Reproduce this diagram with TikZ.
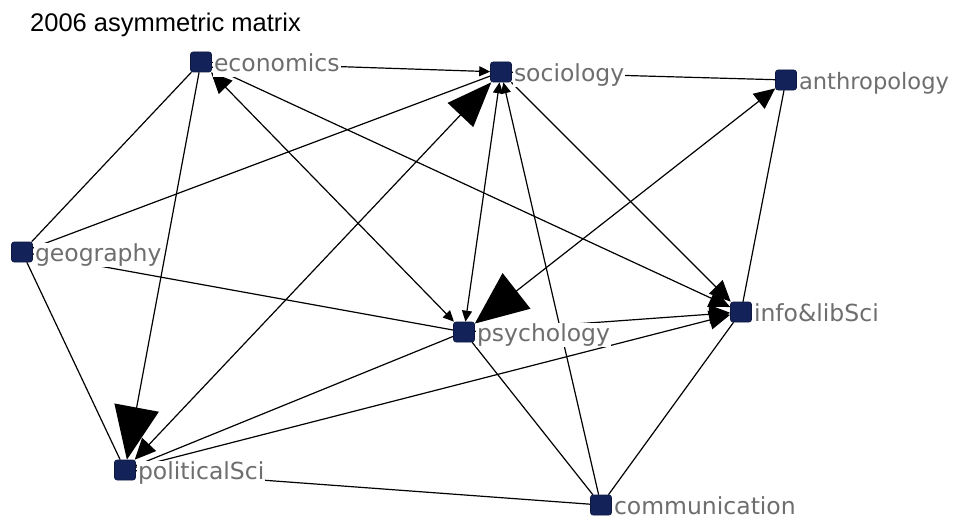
\documentclass[tikz,border=0pt]{standalone}
\usepackage{fontspec}
\newfontfamily\labelfont{DejaVu Sans}
\newfontfamily\titlefont{Liberation Sans}
\usetikzlibrary{arrows.meta}
\pgfdeclarelayer{canvas}
\pgfdeclarelayer{edges}
\pgfsetlayers{canvas,edges,main}
\definecolor{nodeblue}{HTML}{14225A}
\definecolor{labelgray}{HTML}{6E6E6E}
\tikzset{
  actor/.style={fill=nodeblue, draw=nodeblue!70!black, line width=0.6pt,
    rounded corners=2.5pt, minimum width=21pt, minimum height=20pt, inner sep=0pt},
  actorlabel/.style={anchor=west, fill=white, inner sep=1pt, xshift=1pt, yshift=-3pt,
    text=labelgray, font=\labelfont\fontsize{23.5}{28}\selectfont,
    text height=17pt, text depth=4.5pt},
  tie/.style={draw=black, line width=1.2pt},
  hS/.tip={Triangle[length=11pt,width=10pt]},
  hM/.tip={Triangle[length=21pt,width=19pt]},
  hL/.tip={Triangle[length=45pt,width=35pt]},
  hX/.tip={Triangle[length=53pt,width=45pt]}
}
\begin{document}
\begin{tikzpicture}[x=1pt,y=-1pt]
\useasboundingbox (0,0) rectangle (953,519);
\begin{pgfonlayer}{canvas}
\fill[white] (0,0) rectangle (953,519);
\end{pgfonlayer}

% title
\node[anchor=base west, inner sep=0pt, font=\titlefont\fontsize{25.5}{30}\selectfont]
  (title) at (30,31.5) {2006 asymmetric matrix};

% actors
\node[actor] (eco) at (201,62) {};
\node[actor] (soc) at (501,72) {};
\node[actor] (ant) at (786,80) {};
\node[actor] (geo) at (22,252) {};
\node[actor] (psy) at (464,332) {};
\node[actor] (inf) at (741,312) {};
\node[actor] (pol) at (125,470) {};
\node[actor] (com) at (601,505) {};

% labels (white boxes hide the ties running underneath)
\node[actorlabel] (ecoL) at (eco.east) {economics};
\node[actorlabel] (socL) at (soc.east) {sociology};
\node[actorlabel, xshift=0pt, font=\labelfont\fontsize{22.6}{27}\selectfont] (antL) at (ant.east) {anthropology};
\node[actorlabel] (geoL) at (geo.east) {geography};
\node[actorlabel] (psyL) at (psy.east) {psychology};
\node[actorlabel] (infL) at (inf.east) {info\&libSci};
\node[actorlabel] (polL) at (pol.east) {politicalSci};
\node[actorlabel] (comL) at (com.east) {communication};

% ties
\begin{pgfonlayer}{edges}
\draw[tie, -hS] (eco) -- (soc);
\draw[tie] (geo) -- (eco);
\draw[tie, -hX] (eco) -- (pol);
\draw[tie, hM-hS] (eco) -- (psy);
\draw[tie, -hM] (eco) -- (inf);
\draw[tie] (geo) -- (soc);
\draw[tie, hM-hL] (pol) -- (soc);
\draw[tie] (soc) -- (ant);
\draw[tie, hS-hS] (psy) -- (soc);
\draw[tie, -hS] (com) -- (soc);
\draw[tie, -hM] (soc) -- (inf);
\draw[tie] (ant) -- (inf);
\draw[tie] (geo) -- (psy);
\draw[tie] (geo) -- (pol);
\draw[tie, -hM] (psy) -- (inf);
\draw[tie, -hM] (pol) -- (inf);
\draw[tie] (psy) -- (pol);
\draw[tie, hX-hM] (psy) -- (ant);
\draw[tie] (psy) -- (com);
\draw[tie] (pol) -- (com);
\draw[tie] (com) -- (inf);
\end{pgfonlayer}
\end{tikzpicture}
\end{document}
